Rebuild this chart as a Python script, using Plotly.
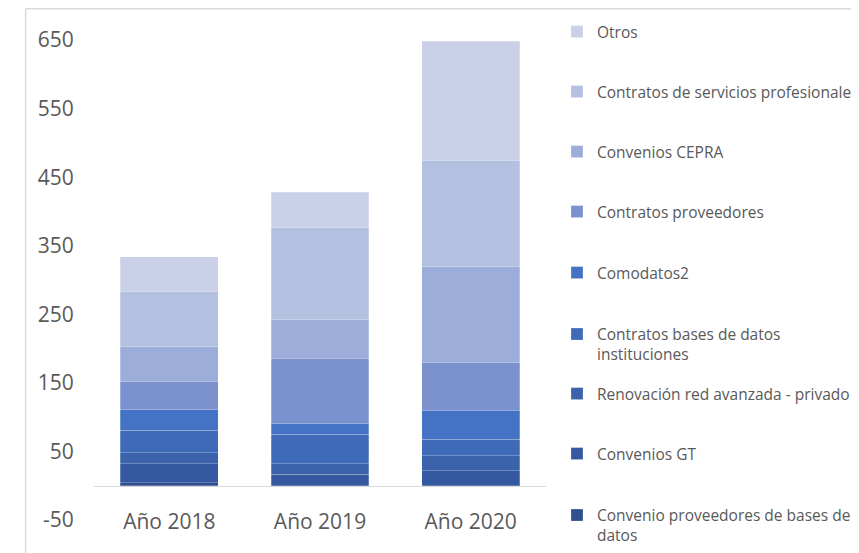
import plotly.graph_objects as go

years = ["Año 2018", "Año 2019", "Año 2020"]

convenio_prov_bd = [4, 0, 0]
convenios_gt = [28, 17, 22]
renovacion_red = [16, 15, 22]
contratos_bases = [33, 43, 24]
comodatos2 = [30, 16, 42]
contratos_prov = [41, 95, 70]
convenios_cepra = [51, 56, 139]
servicios_prof = [80, 134, 156]
otros = [51, 52, 173]

y_tick_values = [-50, 50, 150, 250, 350, 450, 550, 650]
y_tick_labels = ["-50", "50", "150", "250", "350", "450", "550", "650"]

series_names = [
    "Convenio proveedores de bases de<br>datos",
    "Convenios GT",
    "Renovación red avanzada - privado",
    "Contratos bases de datos<br>instituciones",
    "Comodatos2",
    "Contratos proveedores",
    "Convenios CEPRA",
    "Contratos de servicios profesionales",
    "Otros",
]
series_values = [convenio_prov_bd, convenios_gt, renovacion_red, contratos_bases,
                 comodatos2, contratos_prov, convenios_cepra, servicios_prof, otros]
colors = ["#2F4F8F", "#3459A0", "#3A63AC", "#3E6AB8", "#4472C4",
          "#7A91CD", "#9DADD9", "#B4C0E0", "#C9D0E8"]

# page body margin offsets the figure by 8px
OFF = 8
W, H = 859 - OFF, 553 - OFF

# legend first-line centre (px from window top) for each series
legend_rows = [514, 454, 394, 333, 273, 212, 152, 92, 32]
two_line = [True, False, False, True, False, False, False, False, False]

text_color = "#595959"
font_family = "'Open Sans', sans-serif"

fig = go.Figure()
layout_legends = {}
for i, (name, vals, col) in enumerate(zip(series_names, series_values, colors)):
    key = "legend" if i == 0 else f"legend{i+1}"
    fig.add_trace(go.Bar(
        x=years, y=vals, name=name, marker_color=col,
        marker_line=dict(color="rgba(255,255,255,0.35)", width=0.7),
        legend=key,
    ))
    yc = legend_rows[i] - OFF + (11.5 if two_line[i] else 0)
    layout_legends[key] = dict(
        x=(557 - OFF) / W, xref="container", xanchor="left",
        y=1 - yc / H, yref="container", yanchor="middle",
        bgcolor="rgba(0,0,0,0)", valign="top",
        font=dict(family=font_family, size=15.5, color=text_color),
    )

ml = 93.5 - OFF
mr = W - (546.5 - OFF)
mt, mb = 0, 0
pw = W - ml - mr
ph = H - mt - mb

y_lo, y_hi = -98.1, 696.7

fig.update_layout(
    width=W, height=H,
    margin=dict(l=ml, r=mr, t=mt, b=mb, pad=0),
    barmode="stack", bargap=0.35,
    plot_bgcolor="white", paper_bgcolor="white",
    showlegend=True,
    **layout_legends,
)
fig.update_yaxes(
    range=[y_lo, y_hi], tickvals=y_tick_values, ticktext=y_tick_labels,
    showgrid=False, zeroline=False, showline=False,
    ticks="outside", ticklen=15, tickcolor="rgba(0,0,0,0)",
    tickfont=dict(family=font_family, size=21, color=text_color),
)
fig.update_xaxes(
    anchor="free", position=(0 - y_lo) / (y_hi - y_lo),
    showline=True, linecolor="#D9D9D9", linewidth=1,
    showgrid=False, zeroline=False,
    ticks="outside", ticklen=17, tickcolor="rgba(0,0,0,0)",
    tickfont=dict(family=font_family, size=21, color=text_color),
)

# outer chart-area frame (top and left edges visible)
fx0 = (25 - OFF - ml) / pw
fy1 = 1 - 0.75 / ph
fig.add_shape(type="line", xref="paper", yref="paper",
              x0=fx0, x1=(W + 20 - ml) / pw, y0=fy1, y1=fy1,
              line=dict(color="#D9D9D9", width=1.5))
fig.add_shape(type="line", xref="paper", yref="paper",
              x0=fx0, x1=fx0, y0=-0.1, y1=fy1,
              line=dict(color="#D9D9D9", width=1.5))

fig.write_html("out.html")
